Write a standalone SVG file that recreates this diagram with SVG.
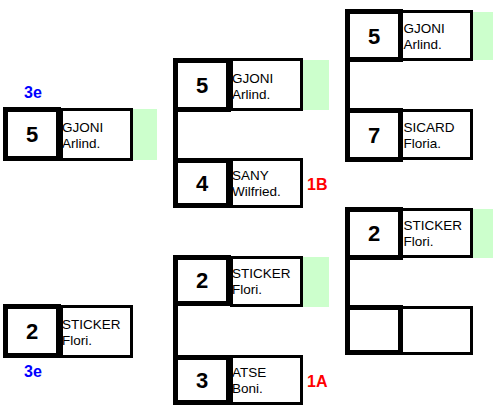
<svg xmlns="http://www.w3.org/2000/svg" width="495" height="406" viewBox="0 0 495 406">
<style>
.num{fill:#fff;stroke:#000;stroke-width:5}
.name{fill:#fff;stroke:#000;stroke-width:3}
.win{fill:#ccffcc}
.bar{fill:#000}
.n{font-family:"Liberation Sans",Arial,sans-serif;font-weight:bold;font-size:22px;text-anchor:middle;fill:#000}
.t{font-family:"Liberation Sans",Arial,sans-serif;font-size:13.5px;fill:#000}
.blue{font-family:"Liberation Sans",Arial,sans-serif;font-weight:bold;font-size:16px;fill:#0000ff;text-anchor:middle}
.red{font-family:"Liberation Sans",Arial,sans-serif;font-weight:bold;font-size:16px;fill:#ff0000}
</style>
<rect width="495" height="406" fill="#fff"/>
<g id="connectors">
<rect class="bar" x="173" y="58" width="5" height="150"/>
<rect class="bar" x="173" y="255" width="5" height="150"/>
<rect class="bar" x="345" y="9" width="5" height="153"/>
<rect class="bar" x="345" y="207" width="5" height="148"/>
</g>
<g id="r1-top">
<rect class="win" x="133" y="109" width="24" height="51"/>
<rect class="name" x="61.5" y="109.5" width="70" height="50"/>
<rect class="num" x="5.5" y="109.5" width="53" height="49"/>
<text class="n" x="32" y="142">5</text>
<text class="t" x="62" y="132">GJONI</text>
<text class="t" x="62" y="148">Arlind.</text>
<text class="blue" x="33" y="98">3e</text>
</g>
<g id="r1-bot">
<rect class="name" x="61.5" y="306.5" width="70" height="50"/>
<rect class="num" x="5.5" y="306.5" width="53" height="49"/>
<text class="n" x="32" y="339">2</text>
<text class="t" x="62" y="329">STICKER</text>
<text class="t" x="62" y="345">Flori.</text>
<text class="blue" x="33" y="377">3e</text>
</g>
<g id="r2-a">
<rect class="win" x="303" y="60" width="26" height="50"/>
<rect class="name" x="231.5" y="59.5" width="70" height="50"/>
<rect class="num" x="175.5" y="60.5" width="53" height="49"/>
<text class="n" x="202" y="93">5</text>
<text class="t" x="232" y="83">GJONI</text>
<text class="t" x="232" y="99">Arlind.</text>
</g>
<g id="r2-b">
<rect class="name" x="231.5" y="159.5" width="70" height="47"/>
<rect class="num" x="175.5" y="160.5" width="53" height="45"/>
<text class="n" x="202" y="191">4</text>
<text class="t" x="232" y="180">SANY</text>
<text class="t" x="232" y="196">Wilfried.</text>
<text class="red" x="307" y="190">1B</text>
</g>
<g id="r2-c">
<rect class="win" x="303" y="257" width="26" height="50"/>
<rect class="name" x="231.5" y="257.5" width="70" height="48"/>
<rect class="num" x="175.5" y="257.5" width="53" height="46"/>
<text class="n" x="202" y="288">2</text>
<text class="t" x="232" y="278">STICKER</text>
<text class="t" x="232" y="294">Flori.</text>
</g>
<g id="r2-d">
<rect class="name" x="231.5" y="356.5" width="70" height="47"/>
<rect class="num" x="175.5" y="357.5" width="53" height="45"/>
<text class="n" x="202" y="388">3</text>
<text class="t" x="232" y="377">ATSE</text>
<text class="t" x="232" y="393">Boni.</text>
<text class="red" x="307" y="387">1A</text>
</g>
<g id="r3-a">
<rect class="win" x="473" y="12" width="20" height="48"/>
<rect class="name" x="401.5" y="11.5" width="70" height="48"/>
<rect class="num" x="347.5" y="11.5" width="53" height="48"/>
<text class="n" x="374" y="44">5</text>
<text class="t" x="403.5" y="33">GJONI</text>
<text class="t" x="403.5" y="49">Arlind.</text>
</g>
<g id="r3-b">
<rect class="name" x="401.5" y="110.5" width="70" height="48"/>
<rect class="num" x="347.5" y="110.5" width="53" height="49"/>
<text class="n" x="374" y="143">7</text>
<text class="t" x="403.5" y="132">SICARD</text>
<text class="t" x="403.5" y="148">Floria.</text>
</g>
<g id="r3-c">
<rect class="win" x="473" y="209" width="20" height="49"/>
<rect class="name" x="401.5" y="209.5" width="70" height="47"/>
<rect class="num" x="347.5" y="209.5" width="53" height="48"/>
<text class="n" x="374" y="241">2</text>
<text class="t" x="403.5" y="230">STICKER</text>
<text class="t" x="403.5" y="246">Flori.</text>
</g>
<g id="r3-d">
<rect class="name" x="401.5" y="307.5" width="70" height="46"/>
<rect class="num" x="347.5" y="307.5" width="53" height="45"/>
</g>
</svg>
